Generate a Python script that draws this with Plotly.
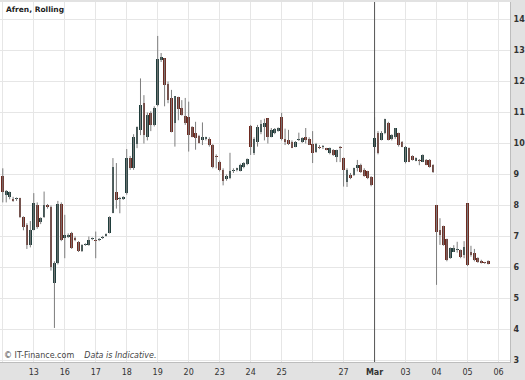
import plotly.graph_objects as go

# ---- data (hourly candles, 9 per trading day) ----
day_labels = ["12", "13", "16", "17", "18", "19", "20", "23", "24", "25", "26", "27",
              "Mar", "03", "04", "05", "06"]
tick_labels = ["", "13", "16", "17", "18", "19", "20", "23", "24", "25", "", "27",
               "<b>Mar</b>", "03", "04", "05", "06"]
candles_per_day = 9
month_break_day = "Mar"

opens = [8.96, 8.35, 8.28, 8.22, 8.20, 8.23, 7.63, 7.37, 6.72,
         7.20, 8.02, 7.48, 7.63, 8.02, 7.96, 5.50, 6.14, 8.05,
         6.95, 7.00, 7.10, 6.95, 6.83, 6.52, 6.72, 6.73, 6.92,
         6.90, 6.88, 6.95, 7.02, 7.10, 7.75, 8.45, 8.20, 8.20,
         8.40, 9.53, 9.20, 10.00, 10.44, 11.30, 10.22, 10.97, 10.60,
         11.24, 12.70, 12.75, 11.92, 11.46, 10.65, 11.51, 11.14, 10.89,
         10.85, 10.54, 10.34, 10.25, 10.10, 10.15, 10.13, 9.95, 9.60,
         9.40, 9.15, 8.85, 8.90, 9.10, 9.15, 9.12, 9.25, 9.34,
         10.56, 9.68, 10.06, 10.38, 10.54, 10.81, 10.22, 10.33, 10.41,
         10.86, 10.15, 10.11, 10.06, 9.90, 10.12, 10.06, 10.20, 10.15,
         9.98, 9.73, 9.90, 9.88, 9.82, 9.69, 9.79, 9.57, 9.90,
         9.52, 8.77, 8.98, 9.00, 9.20, 9.31, 9.15, 9.10, 8.93,
         9.90, 10.34, 10.11, 10.33, 10.65, 10.13, 10.22, 10.35, 10.06,
         9.40, 9.85, 9.60, 9.45, 9.45, 9.41, 9.47, 9.47, 9.31,
         8.02, 7.21, 7.33, 6.91, 6.30, 6.51, 6.55, 6.56, 6.40,
         8.07, 6.51, 6.46, 6.30, 6.20, 6.16, 6.21]
highs = [9.20, 8.50, 8.45, 8.28, 8.26, 8.25, 7.65, 7.43, 7.50,
         8.40, 8.10, 7.62, 8.45, 8.05, 8.00, 6.20, 8.15, 8.10,
         7.70, 7.10, 7.15, 7.00, 6.85, 6.75, 6.78, 7.00, 6.97,
         7.16, 6.95, 7.02, 7.10, 7.65, 9.53, 9.37, 8.28, 8.30,
         9.82, 9.60, 10.30, 10.55, 12.10, 11.56, 11.00, 11.04, 11.20,
         13.47, 12.92, 12.75, 12.00, 11.73, 11.53, 11.51, 11.40, 11.47,
         11.35, 10.56, 10.70, 10.28, 10.68, 10.22, 10.20, 9.98, 9.65,
         9.45, 9.20, 9.00, 9.70, 9.20, 9.22, 9.35, 9.40, 9.52,
         10.60, 10.20, 10.60, 10.76, 10.80, 10.81, 10.50, 10.50, 10.52,
         10.99, 10.48, 10.44, 10.10, 10.08, 10.35, 10.20, 10.50, 10.20,
         10.40, 10.02, 9.95, 9.95, 9.86, 9.87, 9.82, 9.80, 9.92,
         9.55, 9.20, 9.05, 9.22, 9.47, 9.35, 9.20, 9.12, 8.95,
         10.85, 10.40, 10.40, 10.80, 10.70, 10.30, 10.50, 10.35, 10.08,
         9.92, 9.87, 9.62, 9.55, 9.50, 9.65, 9.50, 9.50, 9.33,
         8.02, 7.59, 7.35, 6.93, 6.65, 6.72, 6.83, 6.58, 6.85,
         8.07, 6.70, 6.60, 6.33, 6.25, 6.18, 6.23]
lows = [8.10, 8.10, 8.20, 8.12, 8.15, 7.60, 7.20, 6.60, 6.65,
        7.20, 7.25, 7.40, 7.60, 7.90, 5.90, 4.05, 6.10, 6.85,
        6.30, 6.95, 6.60, 6.85, 6.50, 6.50, 6.70, 6.70, 6.88,
        6.30, 6.85, 6.92, 7.00, 7.10, 7.75, 7.90, 7.75, 8.18,
        8.35, 9.15, 9.15, 9.85, 10.27, 10.00, 10.10, 10.40, 10.55,
        11.20, 12.63, 11.20, 11.30, 10.36, 9.90, 10.75, 10.90, 10.60,
        9.74, 10.20, 9.80, 10.00, 9.95, 10.10, 9.90, 9.20, 9.20,
        9.10, 8.65, 8.80, 8.85, 9.05, 9.10, 9.10, 9.20, 9.30,
        9.63, 9.63, 9.90, 10.30, 10.10, 10.00, 10.20, 10.30, 10.38,
        10.10, 9.95, 9.95, 9.85, 9.88, 10.08, 10.02, 10.00, 9.95,
        9.37, 9.70, 9.82, 9.82, 9.78, 9.65, 9.60, 9.40, 9.40,
        8.61, 8.60, 8.85, 8.95, 9.10, 9.05, 8.93, 8.85, 8.62,
        9.69, 9.65, 10.10, 10.30, 10.10, 10.10, 10.15, 9.90, 9.88,
        9.36, 9.40, 9.45, 9.43, 9.30, 9.40, 9.30, 9.22, 9.05,
        5.44, 6.73, 6.70, 6.20, 6.28, 6.50, 6.48, 6.30, 6.30,
        6.05, 6.35, 6.20, 6.15, 6.13, 6.12, 6.10]
closes = [8.45, 8.47, 8.43, 8.16, 8.24, 7.62, 7.32, 6.72, 7.20,
          8.09, 7.32, 7.60, 8.02, 7.95, 6.02, 6.14, 8.05, 6.90,
          7.05, 7.02, 6.62, 6.88, 6.52, 6.72, 6.75, 6.90, 6.95,
          6.85, 6.92, 7.00, 7.08, 7.64, 9.25, 8.18, 8.25, 8.27,
          9.53, 9.20, 10.22, 10.54, 11.24, 10.27, 10.92, 10.60, 11.14,
          12.72, 12.80, 11.89, 11.40, 10.38, 11.53, 11.10, 10.92, 10.65,
          10.27, 10.22, 10.18, 10.02, 10.20, 10.20, 9.95, 9.25, 9.55,
          9.15, 8.80, 8.95, 9.10, 9.15, 9.20, 9.31, 9.36, 9.49,
          9.90, 10.13, 10.52, 10.63, 10.65, 10.22, 10.44, 10.46, 10.49,
          10.13, 10.05, 10.00, 9.85, 10.05, 10.15, 10.18, 10.10, 9.95,
          9.68, 10.00, 9.85, 9.90, 9.80, 9.85, 9.63, 9.79, 9.85,
          9.15, 9.15, 8.88, 9.20, 9.30, 9.09, 8.95, 8.88, 8.66,
          10.17, 9.70, 10.34, 10.78, 10.11, 10.27, 10.49, 9.95, 9.90,
          9.88, 9.41, 9.47, 9.52, 9.42, 9.63, 9.31, 9.25, 9.09,
          7.16, 7.05, 6.73, 6.24, 6.62, 6.62, 6.60, 6.35, 6.67,
          6.08, 6.40, 6.24, 6.19, 6.16, 6.14, 6.11]

y_ticks = list(range(3, 15))

# ---- derived positions ----
n = len(closes)
xs = list(range(n))
day_pos = [i * candles_per_day for i in range(len(day_labels))]

UP = "#1f3d3b"
DOWN = "#6e2a20"
WICK = "#7d7d7d"

wx, wy = [], []
for i in range(n):
    wx += [xs[i], xs[i], None]
    wy += [lows[i], highs[i], None]

base = [min(o, c) for o, c in zip(opens, closes)]
height = [max(abs(c - o), 0.04) for o, c in zip(opens, closes)]
colors = [UP if c >= o else DOWN for o, c in zip(opens, closes)]

fig = go.Figure()
fig.add_trace(go.Scatter(x=wx, y=wy, mode="lines", line=dict(color=WICK, width=1),
                         hoverinfo="skip", showlegend=False))
fig.add_trace(go.Bar(x=xs, y=height, base=base, width=0.8,
                     marker=dict(color=colors, line=dict(width=0)), showlegend=False))

mb = day_pos[day_labels.index(month_break_day)]
fig.add_shape(type="line", xref="x", yref="paper", x0=mb, x1=mb, y0=0, y1=1,
              line=dict(color="#555555", width=1))

fig.add_annotation(xref="paper", yref="paper", x=0.008, y=0.997, xanchor="left", yanchor="top",
                   text="<b>Afren, Rolling</b>", showarrow=False,
                   font=dict(family="DejaVu Sans", size=7.5, color="#222222"))
fig.add_annotation(xref="paper", yref="paper", x=0.003, y=0.0, xanchor="left", yanchor="bottom",
                   text="© IT-Finance.com &nbsp;&nbsp; <i>Data is Indicative.</i>", showarrow=False,
                   font=dict(family="DejaVu Sans", size=8, color="#444444"))

fig.update_layout(
    width=525, height=380,
    margin=dict(l=0, r=13, t=2, b=18),
    paper_bgcolor="#e2e2e2", plot_bgcolor="white",
    bargap=0, showlegend=False,
    xaxis=dict(range=[-0.81, 147.34], tickmode="array", tickvals=day_pos, ticktext=tick_labels,
               showgrid=True, gridcolor="#e6e6e6", gridwidth=1, zeroline=False,
               tickfont=dict(family="DejaVu Sans", size=8, color="#333333"),
               ticks="", ticklabelstandoff=2, showline=True, linecolor="#bdbdbd",
               fixedrange=True),
    yaxis=dict(range=[2.952, 14.565], side="right", tickmode="array", tickvals=y_ticks,
               ticktext=[f"<b>{v}</b>" for v in y_ticks],
               showgrid=True, gridcolor="#e6e6e6", gridwidth=1, zeroline=False,
               tickfont=dict(family="DejaVu Sans", size=8, color="#333333"),
               ticks="", ticklabelstandoff=1, showline=True, linecolor="#bdbdbd",
               fixedrange=True),
)

fig.write_html("out.html",
               config={"displayModeBar": False, "staticPlot": True},
               post_script="document.body.style.margin='0';document.body.style.padding='0';"
                           "document.documentElement.style.overflow='hidden';")
